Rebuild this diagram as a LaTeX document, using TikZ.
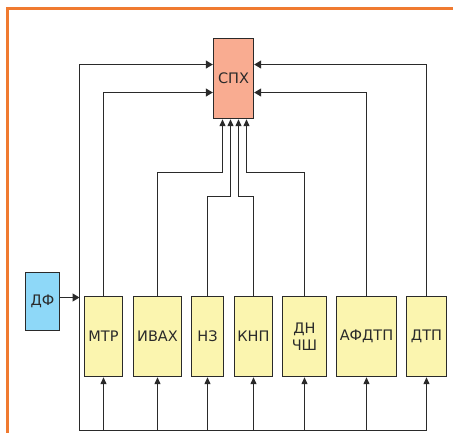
\documentclass[tikz,border=0pt]{standalone}
\usepackage{fontspec}
\setmainfont{DejaVu Sans}
\usetikzlibrary{arrows.meta}
\definecolor{lineC}{HTML}{2A2A2A}
\definecolor{yel}{HTML}{FBF5AF}
\definecolor{sal}{HTML}{F9AC91}
\definecolor{blu}{HTML}{8ED8F8}
\definecolor{ora}{HTML}{F07A30}
\tikzset{
  blk/.style={draw=lineC, line width=1.4pt, inner sep=0pt, font=\fontsize{14.5}{17}\selectfont, text=lineC, align=center},
  ybox/.style={blk, fill=yel, minimum height=80pt},
  wire/.style={draw=lineC, line width=1.2pt},
  arr/.style={wire, -{Triangle[length=7pt,width=6pt]}},
  sarr/.style={wire, -{Triangle[length=7pt,width=8pt]}}
}
\begin{document}
\begin{tikzpicture}[x=1pt,y=-1pt]
\useasboundingbox (0,0) rectangle (453,432);
\fill[white] (0,0) rectangle (453,432);
\draw[ora, line width=3pt] (7.5,440) -- (7.5,8.5) -- (460,8.5);
% nodes
\node[blk, fill=sal, minimum width=40pt, minimum height=80pt] (sph) at (233.5,78.5) {СПХ};
\node[blk, fill=blu, minimum width=34pt, minimum height=58pt] (df) at (42.5,301.5) {ДФ};
\node[ybox, minimum width=38pt] (mtr) at (103.5,336.5) {МТР};
\node[ybox, minimum width=48pt] (ivax) at (157.5,336.5) {ИВАХ};
\node[ybox, minimum width=32pt] (nz) at (207.5,336.5) {НЗ};
\node[ybox, minimum width=38pt] (knp) at (253.5,336.5) {КНП};
\node[ybox, minimum width=44pt] (dn) at (304.5,336.5) {ДН\\ЧШ};
\node[ybox, minimum width=60pt] (afd) at (366.5,336.5) {АФДТП};
\node[ybox, minimum width=40pt] (dtp) at (426.5,336.5) {ДТП};
% coordinates
\coordinate (bl) at (79.5,430.5);
\coordinate (s1) at ([xshift=-11pt]sph.south);
\coordinate (s2) at ([xshift=-3pt]sph.south);
\coordinate (s3) at ([xshift=5pt]sph.south);
\coordinate (s4) at ([xshift=13pt]sph.south);
% side feeds
\draw[sarr] (bl) |- (sph.west |- 0,64.5);
\draw[sarr] (mtr.north) |- (sph.west |- 0,92.5);
\draw[sarr] (dtp.north) |- (sph.east |- 0,64.5);
\draw[sarr] (afd.north) |- (sph.east |- 0,92.5);
% bottom feeds
\draw[arr] (ivax.north) |- (s1 |- 0,172.5) -- (s1);
\draw[arr] (nz.north) |- (s2 |- 0,196.5) -- (s2);
\draw[arr] (knp.north) |- (s3 |- 0,196.5) -- (s3);
\draw[arr] (dn.north) |- (s4 |- 0,172.5) -- (s4);
% ДФ
\draw[sarr] (df.east |- 0,297.5) -- (bl |- 0,297.5);
% bus
\draw[wire] (bl) -- (dtp.south |- bl);
\foreach \n in {mtr,ivax,nz,knp,dn,afd,dtp}{
  \draw[arr] (\n.south |- bl) -- (\n.south);
}
\end{tikzpicture}
\end{document}
